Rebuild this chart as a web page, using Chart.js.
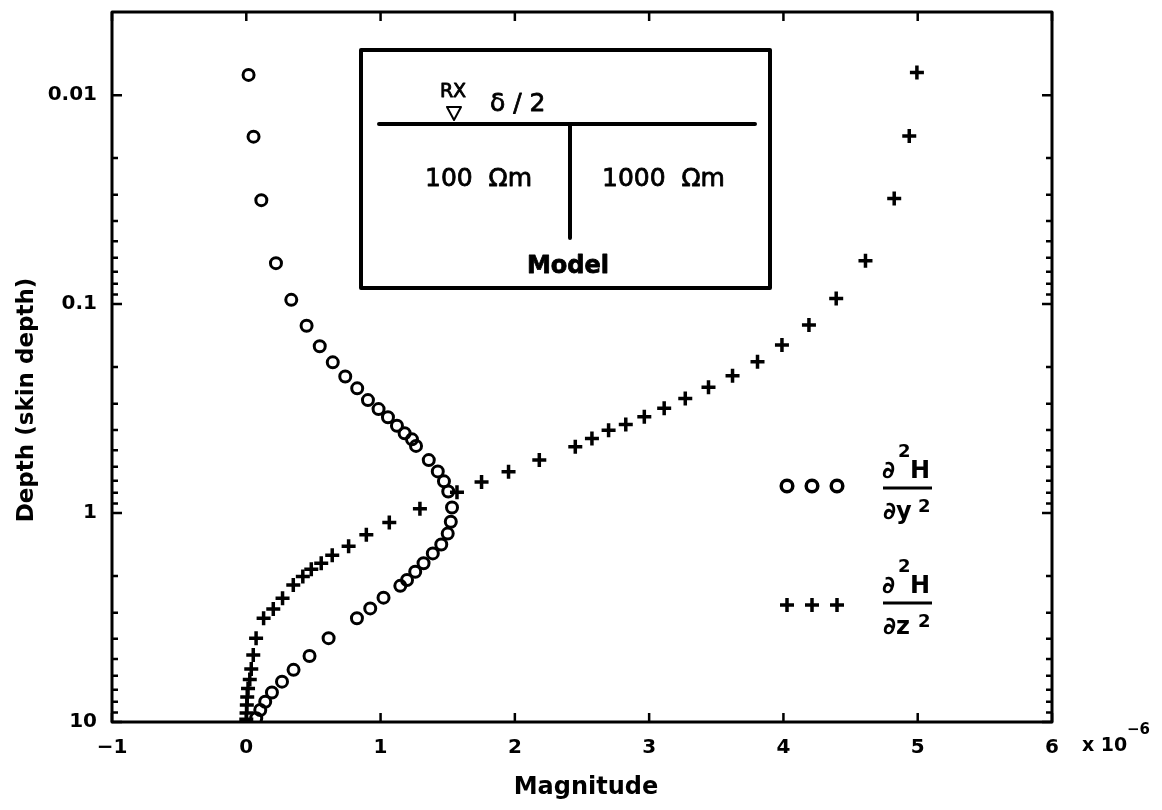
<!DOCTYPE html>
<html>
<head>
<meta charset="utf-8">
<title>Depth profile</title>
<script src="https://cdn.jsdelivr.net/npm/chart.js@4.4.1/dist/chart.umd.min.js"></script>
<style>
  html, body { margin: 0; padding: 0; background: #fff; }
  #wrap { width: 1162px; height: 810px; position: relative; }
</style>
</head>
<body>
<div id="wrap"><canvas id="depthChart" width="1162" height="810"></canvas></div>
<script>
// magnitudes are in units of 1e-6, depths in skin depths

// d2H/dy2 (circles)
var depthYY = [0.0080, 0.0158, 0.0318, 0.0637, 0.0954, 0.127, 0.159, 0.190, 0.222, 0.253,
  0.288, 0.318, 0.348, 0.382, 0.415, 0.444, 0.477, 0.558, 0.632, 0.705,
  0.789, 0.941, 1.10, 1.254, 1.414, 1.56, 1.74, 1.91, 2.09, 2.23,
  2.54, 2.86, 3.19, 3.97, 4.83, 5.63, 6.41, 7.23, 8.0, 8.76, 9.6];
var magYY = [0.017, 0.054, 0.112, 0.221, 0.335, 0.449, 0.547, 0.644, 0.737, 0.826,
  0.906, 0.985, 1.055, 1.122, 1.179, 1.234, 1.264, 1.359, 1.426, 1.472,
  1.504, 1.532, 1.523, 1.500, 1.452, 1.389, 1.320, 1.258, 1.197, 1.147,
  1.022, 0.923, 0.824, 0.613, 0.471, 0.352, 0.266, 0.191, 0.141, 0.104, 0.074];

// d2H/dz2 (crosses)
var depthZZ = [0.0078, 0.0157, 0.0312, 0.062, 0.094, 0.126, 0.157, 0.189, 0.22, 0.25,
  0.283, 0.315, 0.346, 0.377, 0.402, 0.44, 0.482, 0.558, 0.634, 0.711,
  0.795, 0.954, 1.11, 1.27, 1.44, 1.59, 1.74, 1.86, 2.01, 2.21,
  2.56, 2.88, 3.19, 3.97, 4.78, 5.58, 6.26, 6.91, 7.6, 8.3, 9.06, 9.7];
var magZZ = [4.994, 4.937, 4.825, 4.611, 4.393, 4.190, 3.989, 3.807, 3.621, 3.442,
  3.269, 3.112, 2.964, 2.826, 2.698, 2.574, 2.45, 2.182, 1.953, 1.752,
  1.569, 1.293, 1.065, 0.894, 0.762, 0.640, 0.558, 0.484, 0.421, 0.350,
  0.270, 0.201, 0.129, 0.073, 0.052, 0.037, 0.026, 0.013, 0.007, 0.004, 0.002, 0.0];

var xTicks = [-1, 0, 1, 2, 3, 4, 5, 6];
var yTicks = [0.01, 0.1, 1, 10];
var yMinor = [0.02, 0.03, 0.04, 0.05, 0.06, 0.07, 0.08, 0.09,
  0.2, 0.3, 0.4, 0.5, 0.6, 0.7, 0.8, 0.9,
  2, 3, 4, 5, 6, 7, 8, 9];

var FONT = "'DejaVu Sans', sans-serif";

function pairs(xs, ys) {
  var out = [];
  for (var i = 0; i < xs.length; i++) out.push({ x: xs[i], y: ys[i] });
  return out;
}

// filled text with a thin outline so it prints a bit heavier
function heavyText(ctx, s, x, y, w) {
  ctx.fillText(s, x, y);
  ctx.lineWidth = w;
  ctx.strokeText(s, x, y);
}

// box, inward ticks, inset model sketch, legend and titles
var decorations = {
  id: 'decorations',
  afterDraw: function (chart) {
    var ctx = chart.ctx;
    var a = chart.chartArea;
    var sx = chart.scales.x, sy = chart.scales.y;
    ctx.save();
    ctx.strokeStyle = '#000';
    ctx.fillStyle = '#000';
    ctx.lineJoin = 'round';

    // frame
    ctx.lineWidth = 3;
    ctx.strokeRect(a.left, a.top, a.right - a.left, a.bottom - a.top);

    // ticks pointing inward
    ctx.lineWidth = 2.5;
    ctx.beginPath();
    xTicks.forEach(function (v) {
      var px = sx.getPixelForValue(v);
      ctx.moveTo(px, a.bottom); ctx.lineTo(px, a.bottom - 9);
      ctx.moveTo(px, a.top); ctx.lineTo(px, a.top + 9);
    });
    yTicks.forEach(function (v) {
      var py = sy.getPixelForValue(v);
      ctx.moveTo(a.left, py); ctx.lineTo(a.left + 10, py);
      ctx.moveTo(a.right, py); ctx.lineTo(a.right - 10, py);
    });
    yMinor.forEach(function (v) {
      var py = sy.getPixelForValue(v);
      ctx.moveTo(a.left, py); ctx.lineTo(a.left + 6, py);
      ctx.moveTo(a.right, py); ctx.lineTo(a.right - 6, py);
    });
    ctx.stroke();

    // inset: model sketch
    var bx = a.left + 249, by = a.top + 38;
    ctx.lineWidth = 4;
    ctx.strokeRect(bx, by, 409, 238);
    ctx.lineCap = 'round';
    ctx.beginPath();
    ctx.moveTo(bx + 18, by + 74); ctx.lineTo(bx + 394, by + 74);
    ctx.moveTo(bx + 209, by + 74); ctx.lineTo(bx + 209, by + 188);
    ctx.stroke();
    ctx.lineCap = 'butt';

    ctx.textBaseline = 'alphabetic';
    ctx.textAlign = 'center';
    ctx.font = '19px ' + FONT;
    heavyText(ctx, 'RX', bx + 92, by + 47, 0.9);
    ctx.lineWidth = 2;
    ctx.beginPath();
    ctx.moveTo(bx + 86, by + 57); ctx.lineTo(bx + 100, by + 57); ctx.lineTo(bx + 93, by + 70);
    ctx.closePath();
    ctx.stroke();

    ctx.textAlign = 'left';
    ctx.font = '25px ' + FONT;
    heavyText(ctx, '\u03b4 / 2', bx + 129, by + 61, 0.8);
    heavyText(ctx, '100  \u03a9m', bx + 64, by + 136, 0.8);
    heavyText(ctx, '1000  \u03a9m', bx + 241, by + 136, 0.8);
    ctx.textAlign = 'center';
    ctx.font = 'bold 24px ' + FONT;
    heavyText(ctx, 'Model', bx + 207, by + 223, 0.8);

    // legend markers
    [787, 812, 837].forEach(function (lx) {
      ctx.lineWidth = 3.5;
      ctx.beginPath();
      ctx.arc(lx, 486, 5.8, 0, Math.PI * 2);
      ctx.stroke();
      ctx.beginPath();
      ctx.moveTo(lx - 7, 605); ctx.lineTo(lx + 7, 605);
      ctx.moveTo(lx, 598); ctx.lineTo(lx, 612);
      ctx.stroke();
    });

    // legend fractions
    function fraction(x, barY, den) {
      ctx.textAlign = 'left';
      ctx.font = 'bold 24px ' + FONT;
      ctx.fillText('\u2202', x, barY - 10);
      ctx.fillText('H', x + 28, barY - 10);
      ctx.font = 'bold 18px ' + FONT;
      ctx.fillText('2', x + 16, barY - 31);
      ctx.lineWidth = 3;
      ctx.beginPath();
      ctx.moveTo(x + 1, barY); ctx.lineTo(x + 50, barY);
      ctx.stroke();
      ctx.font = 'bold 24px ' + FONT;
      ctx.fillText('\u2202' + den, x + 1, barY + 31);
      ctx.font = 'bold 18px ' + FONT;
      ctx.fillText('2', x + 36, barY + 24);
    }
    fraction(882, 488, 'y');
    fraction(882, 603, 'z');

    // axis titles and exponent
    ctx.font = 'bold 24px ' + FONT;
    ctx.textAlign = 'center';
    ctx.textBaseline = 'middle';
    ctx.fillText('Magnitude', 586, 788);
    ctx.save();
    ctx.translate(27, 400);
    ctx.rotate(-Math.PI / 2);
    ctx.font = 'bold 23px ' + FONT;
    ctx.fillText('Depth (skin depth)', 0, 0);
    ctx.restore();

    ctx.textAlign = 'left';
    ctx.textBaseline = 'alphabetic';
    ctx.font = 'bold 19px ' + FONT;
    ctx.fillText('x 10', 1082, 751);
    ctx.font = 'bold 15px ' + FONT;
    ctx.fillText('\u22126', 1127, 734);
    ctx.restore();
  }
};

new Chart(document.getElementById('depthChart'), {
  type: 'scatter',
  data: {
    datasets: [
      {
        label: 'd2H/dy2',
        data: pairs(magYY, depthYY),
        pointStyle: 'circle',
        pointRadius: 5.5,
        pointBorderWidth: 3,
        pointBorderColor: '#000',
        pointBackgroundColor: 'rgba(0,0,0,0)',
        showLine: false
      },
      {
        label: 'd2H/dz2',
        data: pairs(magZZ, depthZZ),
        pointStyle: 'cross',
        pointRadius: 7,
        pointBorderWidth: 3.5,
        pointBorderColor: '#000',
        pointBackgroundColor: '#000',
        showLine: false
      }
    ]
  },
  options: {
    responsive: false,
    animation: false,
    devicePixelRatio: 1,
    layout: { padding: { top: 12, right: 110, left: 0, bottom: 0 } },
    plugins: {
      legend: { display: false },
      tooltip: { enabled: false }
    },
    scales: {
      x: {
        type: 'linear',
        position: 'bottom',
        min: -1,
        max: 6,
        grid: { display: false, drawTicks: false },
        border: { display: false },
        ticks: {
          stepSize: 1,
          autoSkip: false,
          maxRotation: 0,
          padding: 14,
          color: '#000',
          font: { family: FONT, size: 20, weight: 'bold' },
          callback: function (v) { return v < 0 ? '\u2212' + Math.abs(v) : String(v); }
        },
        afterFit: function (s) { s.height = 88; s.paddingLeft = 0; s.paddingRight = 0; }
      },
      y: {
        type: 'logarithmic',
        position: 'left',
        reverse: true,
        min: 0.004,
        max: 10,
        grid: { display: false, drawTicks: false },
        border: { display: false },
        afterBuildTicks: function (s) {
          s.ticks = yTicks.map(function (v) { return { value: v }; });
        },
        ticks: {
          autoSkip: false,
          padding: 15,
          color: '#000',
          font: { family: FONT, size: 20, weight: 'bold' },
          callback: function (v) { return String(v); }
        },
        afterFit: function (s) { s.width = 112; s.paddingTop = 0; s.paddingBottom = 0; }
      }
    }
  },
  plugins: [decorations]
});
</script>
</body>
</html>
